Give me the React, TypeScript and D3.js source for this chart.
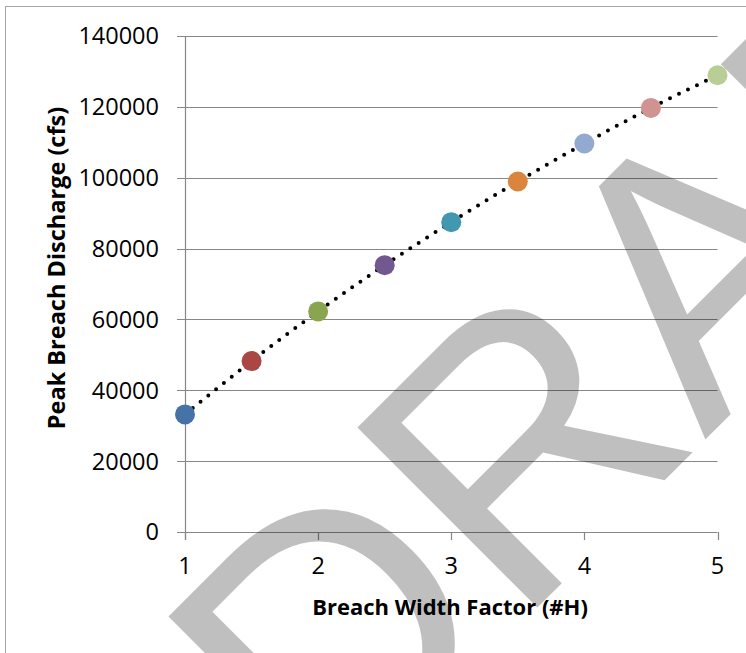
import React from "react";
import * as d3 from "d3";

const widthFactors = [1, 1.5, 2, 2.5, 3, 3.5, 4, 4.5, 5];
const peakDischarge = [33200, 48240, 62260, 75320, 87450, 98930, 109650, 119700, 128920];
const pointColors = ["#4572A7", "#AA4643", "#89A54E", "#71588F", "#4198AF", "#DB843D", "#93A9CF", "#D19392", "#B9CD96"];
const yTicks = [0, 20000, 40000, 60000, 80000, 100000, 120000, 140000];
const xTicks = [1, 2, 3, 4, 5];
const xTitle = "Breach Width Factor (#H)";
const yTitle = "Peak Breach Discharge (cfs)";
const watermark = "DRAFT";

const W = 746;
const H = 653;
const FONT = "'Open Sans', 'Liberation Sans', sans-serif";

export default function App() {
  const x = d3.scaleLinear().domain([1, 5]).range([185, 717.5]);
  const y = d3.scaleLinear().domain([0, 140000]).range([532, 36]);
  const data = widthFactors.map((f, i) => ({ f, q: peakDischarge[i], c: pointColors[i] }));
  const line = d3
    .line<{ f: number; q: number }>()
    .x((d) => x(d.f))
    .y((d) => y(d.q))
    .curve(d3.curveMonotoneX);
  const grid = "#878787";
  return (
    <svg
      width={W}
      height={H}
      style={{ position: "absolute", left: 0, top: 0, display: "block", background: "#fff" }}
    >
      <rect x={5.5} y={6.5} width={W} height={H} fill="#fff" stroke="#a6a6a6" strokeWidth={1} />
      {yTicks.map((t) => (
        <g key={t}>
          <line x1={177} x2={717.5} y1={Math.round(y(t)) + 0.5} y2={Math.round(y(t)) + 0.5} stroke={grid} strokeWidth={1.2} />
          <text
            x={159}
            y={y(t)}
            dy="0.36em"
            textAnchor="end"
            fontFamily={FONT}
            fontSize={23.5}
            fill="#000"
          >
            {t}
          </text>
        </g>
      ))}
      <line x1={185.5} x2={185.5} y1={y(140000)} y2={540} stroke={grid} strokeWidth={1.2} />
      {xTicks.map((t) => (
        <g key={t}>
          <line x1={Math.round(x(t)) + 0.5} x2={Math.round(x(t)) + 0.5} y1={532} y2={540} stroke={grid} strokeWidth={1.2} />
          <text x={x(t)} y={574} textAnchor="middle" fontFamily={FONT} fontSize={23.5} fill="#000">
            {t}
          </text>
        </g>
      ))}
      <text x={450} y={615} textAnchor="middle" fontFamily={FONT} fontWeight="bold" fontSize={22} fill="#000">
        {xTitle}
      </text>
      <text
        transform={`translate(65,268) rotate(-90)`}
        textAnchor="middle"
        fontFamily={FONT}
        fontWeight="bold"
        fontSize={23.5}
        fill="#000"
      >
        {yTitle}
      </text>
      <path
        d={line(data) || ""}
        fill="none"
        stroke="#000"
        strokeWidth={4}
        strokeLinecap="round"
        strokeDasharray="0 10"
      />
      {data.map((d) => (
        <circle key={d.f} cx={x(d.f)} cy={y(d.q)} r={10} fill={d.c} />
      ))}
      <text
        transform="translate(327,818) rotate(-45)"
        fontFamily="'Liberation Sans', Arial, sans-serif"
        fontSize={370}
        fill="#000"
        fillOpacity={0.25}
      >
        {watermark}
      </text>
    </svg>
  );
}
